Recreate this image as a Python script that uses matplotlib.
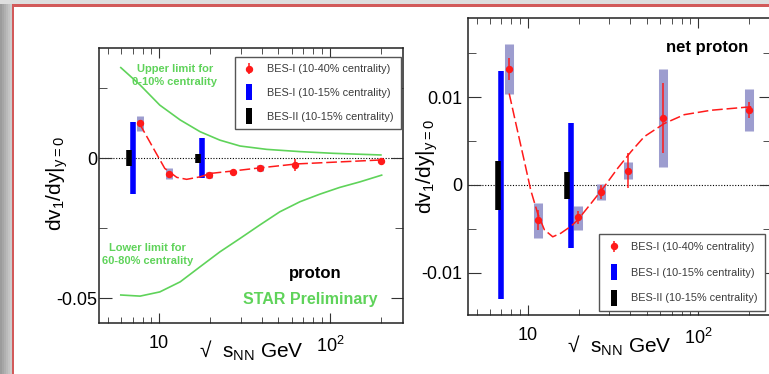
import matplotlib
matplotlib.use("Agg")
import matplotlib.pyplot as plt
from matplotlib.patches import Rectangle
from matplotlib.lines import Line2D
from matplotlib.ticker import FixedLocator, NullFormatter, LogLocator

plt.rcParams['font.family'] = ['Liberation Sans', 'DejaVu Sans']
plt.rcParams['mathtext.default'] = 'regular'
plt.rcParams['axes.unicode_minus'] = False

# BES-I (10-40% centrality) beam energies
energy = [7.7, 11.5, 19.6, 27, 39, 62.4, 200]

# proton: slope, stat. error, sys. box
p_v1 = [0.0124, -0.0056, -0.0060, -0.0050, -0.0036, -0.0025, -0.0010]
p_stat = [0.0010, 0.0007, 0.0004, 0.0003, 0.0004, 0.0023, 0.0005]
p_sys_lo = [0.0096, -0.0075, -0.0070, -0.0053, -0.0046, -0.0028, -0.0013]
p_sys_hi = [0.0150, -0.0036, -0.0049, -0.0047, -0.0024, -0.0022, -0.0007]

# net proton
np_v1 = [0.0132, -0.0040, -0.0037, -0.0008, 0.0016, 0.0076, 0.0085]
np_stat = [0.0012, 0.0011, 0.0007, 0.0008, 0.0020, 0.0040, 0.0009]
np_sys_lo = [0.0103, -0.0060, -0.0051, -0.0017, 0.0007, 0.0021, 0.0061]
np_sys_hi = [0.0160, -0.0020, -0.0024, 0.0001, 0.0026, 0.0132, 0.0109]

# BES-I / BES-II (10-15% centrality) projected ranges
bes1_x = [7.0, 17.9]
bes1_lo = [-0.0130, -0.0072]
bes1_hi = [0.0130, 0.0071]
bes2_x = [6.7, 17.0]
bes2_lo = [-0.0028, -0.0016]
bes2_hi = [0.0027, 0.0015]

# dashed fit curves
p_fit_x = [7.67, 9.26, 10.8, 12.7, 14.5, 17.4, 19.9, 27.2, 39, 63.8, 196]
p_fit_y = [0.0124, 0.0035, -0.0037, -0.0069, -0.0076, -0.0067, -0.0055,
           -0.0046, -0.0035, -0.0021, -0.0007]
np_fit_x = [7.77, 8.5, 9.51, 10.4, 11.4, 12.5, 14.0, 15.6, 17.9, 19.6, 23.5,
            28.1, 33.7, 40.4, 48.3, 63.4, 83.0, 119, 205]
np_fit_y = [0.0104, 0.0070, 0.0028, -0.0006, -0.0032, -0.0051, -0.0059,
            -0.0055, -0.0047, -0.0040, -0.0021, -0.0002, 0.0019, 0.0038,
            0.0055, 0.0070, 0.0080, 0.0085, 0.0089]

# green limits (proton panel)
up_x = [5.97, 7.74, 10.1, 13.3, 17.4, 22.7, 29.8, 42.7, 66.8, 104, 199]
up_y = [0.0323, 0.0261, 0.0189, 0.0136, 0.0094, 0.0064, 0.0043, 0.0031,
        0.0023, 0.0017, 0.0011]
low_x = [5.97, 7.74, 10.1, 13.3, 17.4, 22.7, 29.8, 38.9, 50.9, 66.8, 87.3,
         114, 150, 201]
low_y = [-0.0489, -0.0493, -0.0478, -0.0442, -0.0388, -0.0335, -0.0287,
         -0.0239, -0.0192, -0.0156, -0.0129, -0.0105, -0.0085, -0.0061]

RED = '#ff1a1a'
BLUE = '#0000ff'
BOX = '#9d9dcf'
GREEN = '#5fd35a'
TXT = '#3a3a3a'

fig = plt.figure(figsize=(7.69, 3.74), dpi=100)
W, H = 769.0, 374.0

# slide frame
for i, g in enumerate(['#9c9c9c', '#a6a6a6', '#b0b0b0', '#bababa', '#c4c4c4', '#cccccc']):
    fig.add_artist(Rectangle((i * 2 / W, 0), 2 / W, 1, transform=fig.transFigure,
                             color=g, lw=0))
fig.add_artist(Rectangle((0, 1 - 4 / H), 1, 4 / H, transform=fig.transFigure,
                         color='#dedede', lw=0))
fig.add_artist(Rectangle((12 / W, 0), 2 / W, 1 - 4 / H, transform=fig.transFigure,
                         color='#d25a5a', lw=0))
fig.add_artist(Rectangle((12 / W, 1 - 6.5 / H), 1, 2 / H, transform=fig.transFigure,
                         color='#d25a5a', lw=0))


def style_axes(ax, ylim, major, minor, labels, ypad):
    ax.set_xscale('log')
    ax.set_xlim(4.45, 268)
    ax.set_ylim(*ylim)
    ax.set_xticks([10, 100], ['10', '$10^{2}$'])
    ax.xaxis.set_minor_locator(LogLocator(base=10, subs=range(2, 10)))
    ax.xaxis.set_minor_formatter(NullFormatter())
    ax.set_yticks(major, labels)
    ax.yaxis.set_minor_locator(FixedLocator(minor))
    ax.tick_params(which='both', direction='in', top=True, right=True,
                   labelsize=13, color='#333333')
    ax.tick_params(axis='x', which='major', length=7, pad=9)
    ax.tick_params(axis='x', which='minor', length=4)
    ax.tick_params(axis='y', which='major', length=9, pad=ypad)
    ax.tick_params(axis='y', which='minor', length=5.5)
    for s in ax.spines.values():
        s.set_linewidth(1.1)
        s.set_color('#222222')
    ax.axhline(0, color='black', lw=0.8, ls=(0, (1, 1.5)), zorder=1)
    ax.set_ylabel('dv$_{1}$/dy|$_{y=0}$', fontsize=15)
    ax.text(0.5, -0.127, '√  s$_{NN}$ GeV', transform=ax.transAxes,
            fontsize=15, ha='center', va='baseline')


def draw_points(ax, v1, stat, lo, hi, box_w):
    ax.vlines(energy, lo, hi, color=BOX, lw=box_w, capstyle='butt', zorder=3)
    ax.errorbar(energy, v1, yerr=stat, fmt='o', color=RED, ms=4.3, lw=1.1,
                capsize=0, zorder=5)


def draw_projection(ax):
    ax.vlines(bes1_x, bes1_lo, bes1_hi, color=BLUE, lw=4, capstyle='butt', zorder=2)
    ax.vlines(bes2_x, bes2_lo, bes2_hi, color='black', lw=4, capstyle='butt', zorder=2)


bar_marker = [(-0.22, -0.5), (0.22, -0.5), (0.22, 0.5), (-0.22, 0.5), (-0.22, -0.5)]


def add_legend(ax, anchor, spacing):
    h_red = ax.errorbar([], [], yerr=[], fmt='o', color=RED, ms=4.3, lw=1.1, capsize=0)
    h_blue = Line2D([], [], ls='none', marker=bar_marker, ms=11, color=BLUE, mew=0)
    h_black = Line2D([], [], ls='none', marker=bar_marker, ms=11, color='black', mew=0)
    leg = ax.legend([h_red, h_blue, h_black],
                    ['BES-I (10-40% centrality)', 'BES-I (10-15% centrality)',
                     'BES-II (10-15% centrality)'],
                    loc='lower right', bbox_to_anchor=anchor, fontsize=7.8,
                    frameon=True, fancybox=False, framealpha=1, edgecolor='#555555',
                    labelspacing=spacing, handlelength=1.2, handletextpad=1.0,
                    borderpad=0.7, borderaxespad=0, labelcolor=TXT)
    leg.get_frame().set_linewidth(1.0)
    leg.set_zorder(10)


# ---- proton panel ----
ax1 = fig.add_axes([99 / W, 1 - 323 / H, 304 / W, 275 / H])
style_axes(ax1, (-0.0589, 0.0393), [-0.05, 0], [-0.025, 0.025],
           ['-0.05', '0'], 1.5)
ax1.yaxis.set_label_coords(-0.095, 0.51)
ax1.plot(up_x, up_y, color=GREEN, lw=1.2, zorder=2)
ax1.plot(low_x, low_y, color=GREEN, lw=1.2, zorder=2)
ax1.plot(p_fit_x, p_fit_y, color=RED, lw=1.1, dashes=(7, 2.5), zorder=4)
draw_projection(ax1)
draw_points(ax1, p_v1, p_stat, p_sys_lo, p_sys_hi, 5)
ax1.text(0.25, 0.94, 'Upper limit for\n0-10% centrality', transform=ax1.transAxes,
         color=GREEN, fontsize=8, fontweight='bold', ha='center', va='top',
         linespacing=1.3)
ax1.text(0.16, 0.29, 'Lower limit for\n60-80% centrality', transform=ax1.transAxes,
         color=GREEN, fontsize=8, fontweight='bold', ha='center', va='top',
         linespacing=1.3)
ax1.text(0.71, 0.18, 'proton', transform=ax1.transAxes, fontsize=12,
         fontweight='bold', ha='center', va='center')
ax1.text(0.695, 0.087, 'STAR Preliminary', transform=ax1.transAxes, color=GREEN,
         fontsize=11.5, fontweight='bold', ha='center', va='center')
add_legend(ax1, (0.993, 0.705), 1.25)

# ---- net proton panel ----
ax2 = fig.add_axes([468 / W, 1 - 315 / H, 303 / W, 297 / H])
style_axes(ax2, (-0.0148, 0.019), [-0.01, 0, 0.01], [-0.005, 0.005, 0.015],
           ['-0.01', '0', '0.01'], 4)
ax2.yaxis.set_label_coords(-0.093, 0.5)
ax2.plot(np_fit_x, np_fit_y, color=RED, lw=1.1, dashes=(7, 2.5), zorder=4)
draw_projection(ax2)
draw_points(ax2, np_v1, np_stat, np_sys_lo, np_sys_hi, 6.5)
ax2.text(0.79, 0.9, 'net proton', transform=ax2.transAxes, fontsize=12,
         fontweight='bold', ha='center', va='center')
add_legend(ax2, (0.98, 0.0135), 1.45)

fig.savefig('out.png', dpi=100)
